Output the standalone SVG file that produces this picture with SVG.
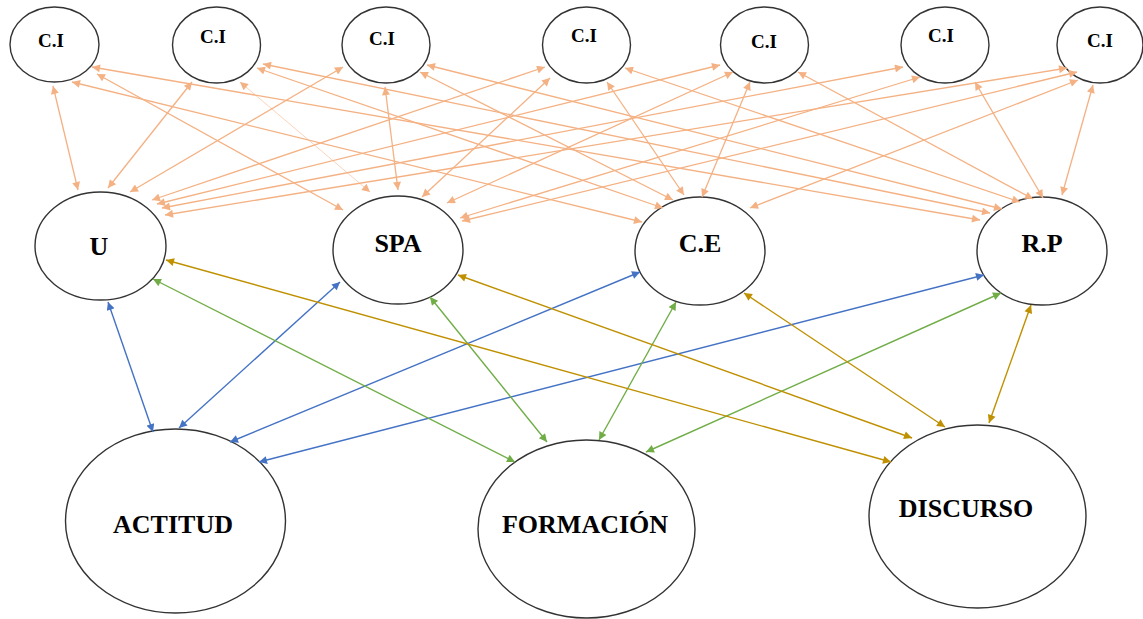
<svg xmlns="http://www.w3.org/2000/svg" width="1143" height="619" viewBox="0 0 1143 619">
<style>
.node ellipse{fill:#fff;stroke:#333;stroke-width:1.4}
.lbl{font-family:"Liberation Serif","Times New Roman",serif;font-weight:bold;fill:#000;text-anchor:middle}
.ci{font-size:19px}
.mid{font-size:26px}
.big{font-size:26px}
.o{stroke:#F4B183;stroke-width:1.3;fill:none;marker-start:url(#mo);marker-end:url(#mo)}
.o.light{stroke-width:0.8;stroke-opacity:0.7}
.b{stroke:#4472C4;stroke-width:1.4;fill:none;marker-start:url(#mb);marker-end:url(#mb)}
.g{stroke:#70AD47;stroke-width:1.4;fill:none;marker-start:url(#mg);marker-end:url(#mg)}
.y{stroke:#BF9000;stroke-width:1.4;fill:none;marker-start:url(#my);marker-end:url(#my)}
</style>
<defs>
<marker id="mo" viewBox="0 0 10 10" refX="10" refY="5" markerWidth="10" markerHeight="8" markerUnits="userSpaceOnUse" orient="auto-start-reverse"><path d="M0,0 L10,5 L0,10 z" fill="#F4B183"/></marker>
<marker id="mb" viewBox="0 0 10 10" refX="10" refY="5" markerWidth="10" markerHeight="8" markerUnits="userSpaceOnUse" orient="auto-start-reverse"><path d="M0,0 L10,5 L0,10 z" fill="#4472C4"/></marker>
<marker id="mg" viewBox="0 0 10 10" refX="10" refY="5" markerWidth="10" markerHeight="8" markerUnits="userSpaceOnUse" orient="auto-start-reverse"><path d="M0,0 L10,5 L0,10 z" fill="#70AD47"/></marker>
<marker id="my" viewBox="0 0 10 10" refX="10" refY="5" markerWidth="10" markerHeight="8" markerUnits="userSpaceOnUse" orient="auto-start-reverse"><path d="M0,0 L10,5 L0,10 z" fill="#BF9000"/></marker>
</defs>
<rect width="1143" height="619" fill="#fff"/>

<g id="ci1" class="node"><ellipse cx="54.5" cy="44.5" rx="44.5" ry="37.5"/><text class="lbl ci" x="51" y="47">C.I</text></g>
<g id="ci2" class="node"><ellipse cx="216.5" cy="45" rx="44" ry="38"/><text class="lbl ci" x="213" y="43">C.I</text></g>
<g id="ci3" class="node"><ellipse cx="386" cy="45" rx="44" ry="38"/><text class="lbl ci" x="382" y="45">C.I</text></g>
<g id="ci4" class="node"><ellipse cx="586.5" cy="45" rx="44" ry="38"/><text class="lbl ci" x="584" y="42">C.I</text></g>
<g id="ci5" class="node"><ellipse cx="764.5" cy="45" rx="44" ry="38"/><text class="lbl ci" x="764" y="48">C.I</text></g>
<g id="ci6" class="node"><ellipse cx="945" cy="45" rx="44" ry="38"/><text class="lbl ci" x="941" y="42">C.I</text></g>
<g id="ci7" class="node"><ellipse cx="1100" cy="45" rx="43" ry="38"/><text class="lbl ci" x="1100" y="47">C.I</text></g>

<g id="u" class="node"><ellipse cx="100.5" cy="246" rx="65.5" ry="54"/><text class="lbl mid" x="99" y="255">U</text></g>
<g id="spa" class="node"><ellipse cx="398" cy="250" rx="65" ry="54"/><text class="lbl mid" x="398" y="252">SPA</text></g>
<g id="ce" class="node"><ellipse cx="700" cy="251" rx="65" ry="54"/><text class="lbl mid" x="700" y="252">C.E</text></g>
<g id="rp" class="node"><ellipse cx="1042" cy="251" rx="65" ry="54"/><text class="lbl mid" x="1042" y="252">R.P</text></g>

<g id="actitud" class="node"><ellipse cx="175.5" cy="521" rx="110" ry="92"/><text class="lbl big" x="173" y="533">ACTITUD</text></g>
<g id="formacion" class="node"><ellipse cx="586.5" cy="529" rx="108.5" ry="89"/><text class="lbl big" x="585" y="533">FORMACIÓN</text></g>
<g id="discurso" class="node"><ellipse cx="977.5" cy="516.5" rx="108.5" ry="91.5"/><text class="lbl big" x="966" y="517">DISCURSO</text></g>

<g id="connectors">
<line class="o" x1="53" y1="86" x2="78" y2="190"/>
<line class="o" x1="97" y1="74" x2="343" y2="210"/>
<line class="o" x1="72" y1="82" x2="642" y2="222"/>
<line class="o" x1="92" y1="67" x2="980" y2="220"/>
<line class="o" x1="192" y1="82" x2="108" y2="188"/>
<line class="o light" x1="240" y1="82" x2="370" y2="192"/>
<line class="o" x1="257" y1="68" x2="663" y2="208"/>
<line class="o" x1="263" y1="64" x2="990" y2="213"/>
<line class="o" x1="343" y1="67" x2="130" y2="192"/>
<line class="o" x1="385" y1="87" x2="398" y2="190"/>
<line class="o" x1="420" y1="72" x2="673" y2="200"/>
<line class="o" x1="427" y1="65" x2="1002" y2="209"/>
<line class="o" x1="545" y1="67" x2="152" y2="200"/>
<line class="o" x1="550" y1="78" x2="422" y2="197"/>
<line class="o" x1="607" y1="82" x2="684" y2="195"/>
<line class="o" x1="625" y1="68" x2="1020" y2="202"/>
<line class="o" x1="720" y1="65" x2="157" y2="204"/>
<line class="o" x1="733" y1="72" x2="447" y2="203"/>
<line class="o" x1="750" y1="82" x2="702" y2="197"/>
<line class="o" x1="798" y1="72" x2="1033" y2="199"/>
<line class="o" x1="903" y1="67" x2="162" y2="208"/>
<line class="o" x1="920" y1="77" x2="460" y2="218"/>
<line class="o" x1="975" y1="82" x2="1043" y2="198"/>
<line class="o" x1="1067" y1="68" x2="165" y2="215"/>
<line class="o" x1="1077" y1="72" x2="462" y2="221"/>
<line class="o" x1="1078" y1="80" x2="750" y2="208"/>
<line class="o" x1="1093" y1="85" x2="1062" y2="195"/>

<line class="b" x1="108" y1="302" x2="153" y2="432"/>
<line class="b" x1="340" y1="282" x2="179" y2="428"/>
<line class="b" x1="640" y1="272" x2="230" y2="442"/>
<line class="b" x1="984" y1="275" x2="259" y2="462"/>

<line class="g" x1="153" y1="279" x2="515" y2="462"/>
<line class="g" x1="430" y1="297" x2="547" y2="442"/>
<line class="g" x1="676" y1="302" x2="599" y2="440"/>
<line class="g" x1="1001" y1="293" x2="646" y2="452"/>

<line class="y" x1="166" y1="260" x2="891" y2="462"/>
<line class="y" x1="458" y1="275" x2="912" y2="438"/>
<line class="y" x1="744" y1="293" x2="945" y2="427"/>
<line class="y" x1="1031" y1="305" x2="989" y2="423"/>
</g>
</svg>
